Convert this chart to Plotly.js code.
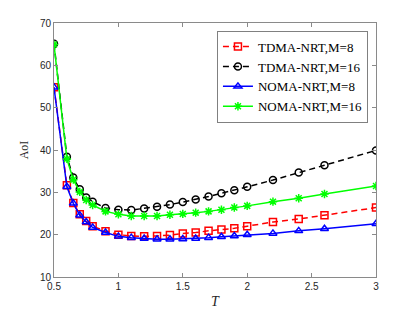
<!DOCTYPE html>
<html>
<head>
<meta charset="utf-8">
<script src="https://cdn.plot.ly/plotly-3.0.1.min.js"></script>
<style>html,body{margin:0;padding:0;background:#fff;}#chart{width:415px;height:312px;}</style>
</head>
<body>
<div id="chart"></div>
<script>
const T = [0.5, 0.6, 0.65, 0.7, 0.75, 0.8, 0.9, 1.0, 1.1, 1.2, 1.3, 1.4, 1.5, 1.6, 1.7, 1.8, 1.9, 2.0, 2.2, 2.4, 2.6, 3.0];
const tdma8  = [54.8, 31.7, 27.5, 24.8, 23.2, 22.0, 20.8, 20.0, 19.7, 19.6, 19.7, 19.9, 20.3, 20.5, 20.9, 21.2, 21.5, 22.0, 23.0, 23.7, 24.6, 26.4];
const tdma16 = [65.1, 38.4, 33.5, 30.7, 28.8, 27.8, 26.3, 25.9, 25.8, 26.2, 26.6, 27.1, 27.7, 28.3, 29.0, 29.8, 30.5, 31.3, 32.9, 34.7, 36.4, 39.9];
const noma8  = [54.8, 31.3, 27.4, 24.6, 23.0, 21.7, 20.5, 19.6, 19.3, 19.1, 18.9, 18.9, 19.0, 19.1, 19.3, 19.5, 19.7, 20.0, 20.3, 20.9, 21.4, 22.6];
const noma16 = [64.9, 37.9, 33.0, 30.1, 28.2, 27.0, 25.5, 24.8, 24.4, 24.4, 24.4, 24.7, 24.9, 25.2, 25.5, 25.9, 26.4, 26.8, 27.8, 28.6, 29.6, 31.5];
const names = ['TDMA-NRT,M=8', 'TDMA-NRT,M=16', 'NOMA-NRT,M=8', 'NOMA-NRT,M=16'];
const xTicks = [0.5, 1, 1.5, 2, 2.5, 3];
const yTicks = [10, 20, 30, 40, 50, 60, 70];

function tr(y, name, color, sym, dash) {
  return {
    x: T, y: y, name: name, type: 'scatter', mode: 'lines+markers',
    line: {color: color, width: 1.5, dash: dash},
    marker: {symbol: sym, size: 7, color: color, line: {color: color, width: 1.5}}
  };
}
const data = [
  tr(tdma8, names[0], '#ff0000', 'square-open', '6px,4px'),
  tr(tdma16, names[1], '#000000', 'circle-open', '6px,4px'),
  tr(noma8, names[2], '#0000ff', 'triangle-up-open', 'solid'),
  tr(noma16, names[3], '#00ff00', 'asterisk-open', 'solid')
];
const axisCommon = {
  showline: true, mirror: 'ticks', ticks: 'inside', ticklen: 4, tickwidth: 1,
  linecolor: '#8a8a8a', tickcolor: '#8a8a8a', linewidth: 1,
  showgrid: false, zeroline: false,
  tickfont: {family: 'Liberation Sans, Arial, sans-serif', size: 10, color: '#262626'}
};
const layout = {
  width: 415, height: 312,
  margin: {l: 54, r: 39, t: 23, b: 35},
  paper_bgcolor: '#fff', plot_bgcolor: '#fff',
  showlegend: true,
  xaxis: Object.assign({}, axisCommon, {
    range: [0.5, 3], tickvals: xTicks, ticktext: xTicks.map(String),
    title: {text: '<i>T</i>', font: {family: 'Liberation Serif, Times New Roman, serif', size: 14, color: '#262626'}, standoff: 5}
  }),
  yaxis: Object.assign({}, axisCommon, {
    range: [10, 70], tickvals: yTicks, ticktext: yTicks.map(String),
    title: {text: 'AoI', font: {family: 'Liberation Serif, Times New Roman, serif', size: 12, color: '#262626'}, standoff: 8}
  }),
  legend: {
    x: 0.975, y: 0.97, xanchor: 'right', yanchor: 'top',
    bgcolor: '#fff', bordercolor: '#808080', borderwidth: 1,
    font: {family: 'Liberation Serif, Times New Roman, serif', size: 13, color: '#000'},
    itemwidth: 30, tracegroupgap: 0
  }
};
Plotly.newPlot('chart', data, layout, {displayModeBar: false, staticPlot: true});
</script>
</body>
</html>
